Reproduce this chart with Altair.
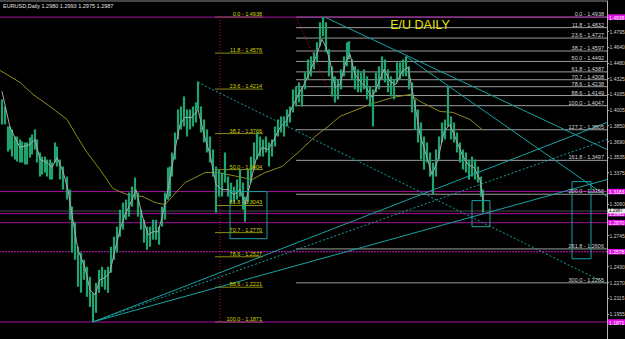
import altair as alt
import pandas as pd

# ---------------- data (bar index, price) ----------------
bar_x = [2, 5, 8, 10, 12, 15, 17, 20, 22, 25,
         27, 30, 32, 35, 37, 40, 42, 45, 47, 50,
         52, 55, 57, 60, 63, 67, 70, 72, 75, 78,
         81, 84, 87, 90, 93, 96, 99, 102, 105, 108,
         111, 114, 117, 120, 123, 126, 129, 132, 135, 138,
         141, 144, 147, 150, 153, 156, 159, 162, 165, 168,
         170, 172, 175, 178, 181, 184, 187, 190, 193, 196,
         198, 201, 204, 207, 210, 213, 216, 219, 222, 225,
         228, 231, 234, 237, 240, 243, 245, 248, 251, 254,
         257, 260, 263, 266, 269, 272, 275, 278, 281, 284,
         287, 290, 293, 296, 299, 302, 305, 308, 311, 314,
         317, 320, 323, 326, 329, 332, 335, 338, 341, 344,
         347, 349, 352, 355, 358, 361, 364, 367, 370, 373,
         376, 379, 382, 385, 388, 391, 394, 397, 400, 403,
         406, 409, 412, 415, 418, 421, 424, 427, 430, 433,
         436, 439, 442, 445, 448, 451, 454, 457, 460, 463,
         466, 469, 472, 475, 478, 481, 483]
bar_high = [1.4110, 1.4039, 1.3838, 1.3838, 1.3808, 1.3737, 1.3737, 1.3707, 1.3687, 1.3677,
            1.3677, 1.3727, 1.3757, 1.3808, 1.3707, 1.3576, 1.3535, 1.3535, 1.3505, 1.3505,
            1.3475, 1.3677, 1.3636, 1.3505, 1.3435, 1.3334, 1.3203, 1.3031, 1.2870, 1.2628,
            1.2568, 1.2497, 1.2427, 1.2326, 1.2165, 1.2265, 1.2396, 1.2427, 1.2396, 1.2427,
            1.2628, 1.2729, 1.2830, 1.3001, 1.3072, 1.3102, 1.3173, 1.3233, 1.3324, 1.3173,
            1.3001, 1.2900, 1.2830, 1.2830, 1.2900, 1.2900, 1.2830, 1.3031, 1.3173, 1.3425,
            1.3435, 1.3576, 1.3777, 1.4009, 1.4039, 1.4140, 1.4009, 1.4009, 1.4039, 1.4080,
            1.4291, 1.4039, 1.3908, 1.3808, 1.3737, 1.3606, 1.3435, 1.3404, 1.3374, 1.3576,
            1.3334, 1.3273, 1.3233, 1.3304, 1.3404, 1.3273, 1.3132, 1.3404, 1.3535, 1.3677,
            1.3777, 1.3737, 1.3707, 1.3737, 1.3677, 1.3707, 1.3838, 1.3908, 1.3939, 1.3939,
            1.4009, 1.4039, 1.4211, 1.4241, 1.4281, 1.4241, 1.4382, 1.4513, 1.4543, 1.4584,
            1.4685, 1.4886, 1.4938, 1.4886, 1.4614, 1.4443, 1.4342, 1.4312, 1.4412, 1.4543,
            1.4685, 1.4695, 1.4513, 1.4443, 1.4412, 1.4382, 1.4412, 1.4342, 1.4241, 1.4211,
            1.4382, 1.4443, 1.4543, 1.4513, 1.4412, 1.4342, 1.4312, 1.4483, 1.4483, 1.4513,
            1.4543, 1.4443, 1.4281, 1.4110, 1.4009, 1.3878, 1.3737, 1.3677, 1.3576, 1.3475,
            1.3606, 1.3737, 1.3878, 1.3908, 1.4241, 1.3939, 1.3878, 1.3777, 1.3677, 1.3606,
            1.3576, 1.3505, 1.3535, 1.3505, 1.3435, 1.3334, 1.3203]
bar_low = [1.3858, 1.3858, 1.3586, 1.3606, 1.3535, 1.3505, 1.3485, 1.3475, 1.3475, 1.3455,
           1.3455, 1.3525, 1.3556, 1.3606, 1.3475, 1.3334, 1.3354, 1.3374, 1.3334, 1.3304,
           1.3304, 1.3475, 1.3435, 1.3304, 1.3203, 1.3102, 1.2900, 1.2568, 1.2497, 1.2225,
           1.2165, 1.2296, 1.2124, 1.2023, 1.1872, 1.1963, 1.2165, 1.2225, 1.2195, 1.2165,
           1.2366, 1.2497, 1.2568, 1.2729, 1.2800, 1.2900, 1.2931, 1.3031, 1.3102, 1.2931,
           1.2800, 1.2669, 1.2598, 1.2628, 1.2699, 1.2699, 1.2648, 1.2830, 1.2900, 1.3102,
           1.3132, 1.3334, 1.3505, 1.3707, 1.3808, 1.3838, 1.3737, 1.3808, 1.3838, 1.3878,
           1.4009, 1.3777, 1.3677, 1.3576, 1.3475, 1.3334, 1.2971, 1.3132, 1.3132, 1.3273,
           1.3132, 1.3072, 1.3072, 1.3102, 1.3132, 1.3001, 1.2880, 1.3072, 1.3273, 1.3404,
           1.3505, 1.3535, 1.3535, 1.3576, 1.3435, 1.3535, 1.3636, 1.3737, 1.3777, 1.3737,
           1.3838, 1.3878, 1.3979, 1.4039, 1.4080, 1.4039, 1.4211, 1.4312, 1.4342, 1.4412,
           1.4483, 1.4644, 1.4745, 1.4584, 1.4342, 1.4140, 1.4080, 1.4110, 1.4211, 1.4342,
           1.4443, 1.4513, 1.4312, 1.4211, 1.4181, 1.4181, 1.4211, 1.4110, 1.4039, 1.3838,
           1.4181, 1.4211, 1.4312, 1.4281, 1.4181, 1.4140, 1.4110, 1.4281, 1.4312, 1.4342,
           1.4342, 1.4211, 1.3979, 1.3808, 1.3677, 1.3505, 1.3404, 1.3475, 1.3334, 1.3152,
           1.3334, 1.3505, 1.3677, 1.3707, 1.3838, 1.3707, 1.3677, 1.3576, 1.3475, 1.3404,
           1.3374, 1.3304, 1.3334, 1.3304, 1.3273, 1.3132, 1.2971]

zig_x = [2, 10, 20, 30, 35, 40, 47, 52, 57, 63, 68, 72, 78, 85, 90, 95, 100, 105, 110, 115,
         120, 125, 130, 136, 142, 148, 153, 158, 162, 168, 175, 180, 185, 192, 198, 204, 210,
         216, 222, 228, 234, 240, 245, 250, 256, 262, 268, 274, 280, 286, 292, 298, 304, 310,
         316, 322, 326, 330, 335, 340, 346, 350, 355, 360, 366, 372, 378, 384, 390, 396, 402,
         408, 414, 420, 426, 432, 438, 444, 450, 456, 462, 468, 474, 480, 483]
zig_p = [1.4191, 1.3828, 1.3626, 1.3656, 1.3707, 1.3505, 1.3475, 1.3425, 1.3525, 1.3384,
         1.3203, 1.2951, 1.2598, 1.2417, 1.2195, 1.2144, 1.2296, 1.2316, 1.2376, 1.2598,
         1.2800, 1.2951, 1.3052, 1.3203, 1.2951, 1.2749, 1.2779, 1.2779, 1.2921, 1.3203,
         1.3606, 1.3858, 1.3929, 1.3929, 1.4009, 1.3757, 1.3556, 1.3253, 1.3203, 1.3203,
         1.3152, 1.3203, 1.3052, 1.3253, 1.3505, 1.3626, 1.3606, 1.3707, 1.3828, 1.3888,
         1.4029, 1.4150, 1.4261, 1.4392, 1.4543, 1.4715, 1.4634, 1.4493, 1.4231, 1.4261,
         1.4493, 1.4564, 1.4362, 1.4291, 1.4231, 1.4130, 1.4261, 1.4412, 1.4291, 1.4261,
         1.4392, 1.4433, 1.4110, 1.3757, 1.3556, 1.3354, 1.3505, 1.3787, 1.3858, 1.3707,
         1.3556, 1.3455, 1.3425, 1.3304, 1.3102]

ma_x = [0, 20, 33, 50, 67, 77, 87, 100, 113, 127, 143, 155, 165, 185, 205, 218, 238, 252,
        265, 282, 298, 315, 328, 340, 370, 393, 410, 420, 440, 453, 470, 482]
ma_p = [1.4402, 1.4281, 1.4160, 1.4039, 1.3908, 1.3737, 1.3576, 1.3404, 1.3213, 1.3152,
        1.3132, 1.3072, 1.3052, 1.3273, 1.3374, 1.3374, 1.3334, 1.3304, 1.3374, 1.3435,
        1.3576, 1.3737, 1.3838, 1.3939, 1.4060, 1.4130, 1.4160, 1.4090, 1.3989, 1.3979,
        1.3908, 1.3808]

# tick labels left visible (1.3220, 1.2900 and 1.2590 sit under the price labels)
axis_ticks = [1.4795, 1.4640, 1.4480, 1.4325, 1.4165, 1.4005, 1.3850, 1.3690, 1.3535,
              1.3375, 1.3060, 1.2745, 1.2430, 1.2270, 1.2115, 1.1955]

fibR_level = ["0.0", "11.8", "23.6", "38.2", "50.0", "61.8", "70.7", "78.6", "88.6",
              "100.0", "127.2", "161.8", "200.0", "261.8", "300.0"]
fibR_price = [1.4938, 1.4832, 1.4727, 1.4597, 1.4492, 1.4387, 1.4308, 1.4238, 1.4149,
              1.4047, 1.3805, 1.3497, 1.3156, 1.2606, 1.2265]
fibR_start, fibR_end = 296, 607

fibL_level = ["0.0", "11.8", "23.6", "38.2", "50.0", "61.8", "70.7", "78.6", "88.6", "100.0"]
fibL_price = [1.4938, 1.4576, 1.4214, 1.3766, 1.3404, 1.3043, 1.2770, 1.2527, 1.2221, 1.1871]
fibL_start, fibL_end = 215, 263

magenta_solid = [1.4938, 1.3183, 1.2961, 1.2870, 1.1871]
magenta_dotted = [1.2578]
price_now = 1.2987

trend_solid = pd.DataFrame({"x0": [93, 93, 325, 406], "p0": [1.1872, 1.1872, 1.4937, 1.4543],
                            "x1": [607, 607, 607, 607], "p1": [1.3878, 1.3304, 1.3606, 1.3132]})
trend_dotted = pd.DataFrame({"x0": [93, 198], "p0": [1.1872, 1.4281],
                             "x1": [607, 607], "p1": [1.3707, 1.2255]})
boxes = pd.DataFrame({"x0": [230, 472, 572], "x1": [267, 490, 591],
                      "p0": [1.3183, 1.3092, 1.3283], "p1": [1.2709, 1.2830, 1.2507]})
red_diag = pd.DataFrame({"x0": [296], "p0": [1.4938], "x1": [336], "p1": [1.4047]})
red_vert = pd.DataFrame({"x0": [220], "p0": [1.4938], "p1": [1.1871]})

# ---------------- chart ----------------
assert len(bar_x) == len(bar_high) == len(bar_low)
assert len(zig_x) == len(zig_p) and len(ma_x) == len(ma_p)

FONT = "Liberation Sans"
xs = alt.Scale(domain=[0, 607], nice=False, zero=False)
ys = alt.Scale(domain=[1.1700, 1.5110], nice=False, zero=False)
yaxis = alt.Axis(orient="right", values=axis_ticks, format=".4f", title="", grid=False,
                 labelFont=FONT, labelFontSize=5, labelColor="#d0d0d0",
                 domainColor="#b0b0b0", tickColor="#b0b0b0", tickSize=1.5,
                 labelPadding=0.5, labelOverlap=False, labelFlush=False)


def X(f):
    return alt.X(f, type="quantitative", scale=xs, axis=None)


def Y(f):
    return alt.Y(f, type="quantitative", scale=ys, axis=yaxis)


bars_df = pd.DataFrame({"x": bar_x, "high": bar_high, "low": bar_low})

top_line = alt.Chart(pd.DataFrame({"a": [0]})).mark_rule(color="#8a8a8a", strokeWidth=1).encode(
    y=alt.value(1))

mag_lines = alt.Chart(pd.DataFrame({"p": magenta_solid})).mark_rule(
    color="#a3129f", strokeWidth=1).encode(y=Y("p"))
mag_dot = alt.Chart(pd.DataFrame({"p": magenta_dotted})).mark_rule(
    color="#a3129f", strokeWidth=1.2, strokeDash=[2, 1]).encode(y=Y("p"))
now_line = alt.Chart(pd.DataFrame({"p": [price_now]})).mark_rule(
    color="#4a4a4a", strokeWidth=1).encode(y=Y("p"))

fibR_df = pd.DataFrame({"p": fibR_price,
                        "label": [f"{l} - {p:.4f}" for l, p in zip(fibR_level, fibR_price)],
                        "x0": fibR_start, "x1": fibR_end, "xt": fibR_end - 3})
fibR_lines = alt.Chart(fibR_df).mark_rule(color="#9c9c9c", strokeWidth=1).encode(
    x=X("x0"), x2="x1", y=Y("p"))
fibR_text = alt.Chart(fibR_df).mark_text(align="right", baseline="bottom", dy=0,
                                         font=FONT, fontSize=5.5, color="#d6d6d6").encode(
    x=X("xt"), y=Y("p"), text="label")

fibL_df = pd.DataFrame({"p": fibL_price,
                        "label": [f"{l} - {p:.4f}" for l, p in zip(fibL_level, fibL_price)],
                        "x0": fibL_start, "x1": fibL_end, "xt": fibL_end - 1})
fibL_lines = alt.Chart(fibL_df).mark_rule(color="#8c8c10", strokeWidth=1).encode(
    x=X("x0"), x2="x1", y=Y("p"))
fibL_text = alt.Chart(fibL_df).mark_text(align="right", baseline="bottom", dy=0,
                                         font=FONT, fontSize=5.5, color="#d8d800").encode(
    x=X("xt"), y=Y("p"), text="label")

redv = alt.Chart(red_vert).mark_rule(color="#c0143c", strokeWidth=1, strokeDash=[1, 2]).encode(
    x=X("x0"), y=Y("p0"), y2="p1")
redd = alt.Chart(red_diag).mark_rule(color="#c0143c", strokeWidth=1, strokeDash=[1, 2]).encode(
    x=X("x0"), x2="x1", y=Y("p0"), y2="p1")

bars = alt.Chart(bars_df).mark_rule(color="#1fa36f", strokeWidth=2.2).encode(
    x=X("x"), y=Y("high"), y2="low")
zig = alt.Chart(pd.DataFrame({"x": zig_x, "p": zig_p})).mark_line(
    color="#a8a8a8", strokeWidth=1).encode(x=X("x"), y=Y("p"))
ma = alt.Chart(pd.DataFrame({"x": ma_x, "p": ma_p})).mark_line(
    color="#8f8a1a", strokeWidth=1).encode(x=X("x"), y=Y("p"))

tr_solid = alt.Chart(trend_solid).mark_rule(color="#19a2a2", strokeWidth=1).encode(
    x=X("x0"), x2="x1", y=Y("p0"), y2="p1")
tr_dot = alt.Chart(trend_dotted).mark_rule(color="#19a2a2", strokeWidth=1,
                                           strokeDash=[2, 2]).encode(
    x=X("x0"), x2="x1", y=Y("p0"), y2="p1")
box_m = alt.Chart(boxes).mark_rect(fillOpacity=0, stroke="#19a2a2", strokeWidth=1).encode(
    x=X("x0"), x2="x1", y=Y("p0"), y2="p1")

eu = alt.Chart(pd.DataFrame({"x": [420], "p": [1.4856], "t": ["E/U DAILY"]})).mark_text(
    font=FONT, fontSize=12.5, color="#e6e600", align="center", baseline="middle").encode(
    x=X("x"), y=Y("p"), text="t")

title = alt.Chart(pd.DataFrame({"t": ["EURUSD,Daily  1.2980 1.2993 1.2975 1.2987"]})).mark_text(
    font=FONT, fontSize=5.5, color="#e0e0e0", align="left", baseline="middle").encode(
    x=alt.value(3), y=alt.value(6), text="t")

lab_df = pd.DataFrame({"p": magenta_solid + magenta_dotted,
                       "t": [f"{p:.4f}" for p in magenta_solid + magenta_dotted]})
lab_box = alt.Chart(lab_df).transform_calculate(
    lo="datum.p - 0.0028", hi="datum.p + 0.0028").mark_rect(color="#e010e0").encode(
    x=alt.value(608), x2=alt.value(626), y=Y("lo"), y2="hi")
lab_txt = alt.Chart(lab_df).mark_text(font=FONT, fontSize=5, color="#ffffff", align="left",
                                      baseline="middle", dy=0.5).encode(
    x=alt.value(609), y=Y("p"), text="t")
now_df = pd.DataFrame({"p": [price_now], "t": [f"{price_now:.4f}"]})
now_box = alt.Chart(now_df).transform_calculate(
    lo="datum.p - 0.0024", hi="datum.p + 0.0024").mark_rect(color="#e8e8e8").encode(
    x=alt.value(608), x2=alt.value(626), y=Y("lo"), y2="hi")
now_txt = alt.Chart(now_df).mark_text(font=FONT, fontSize=4.5, color="#000000", align="left",
                                      baseline="middle", dy=-0.5).encode(
    x=alt.value(609), y=Y("p"), text="t")

chart = alt.layer(
    top_line, now_line, fibR_lines, fibL_lines, mag_lines, mag_dot, redv, redd,
    ma, bars, zig, tr_solid, tr_dot, box_m, fibR_text, fibL_text, eu, title,
    lab_box, lab_txt, now_box, now_txt
).properties(
    width=607, height=339,
    autosize=alt.AutoSizeParams(type="none"),
    padding={"left": 0, "top": 0, "right": 18, "bottom": 0},
).configure(background="#000000").configure_view(strokeWidth=0, fill="#000000")

chart.save("out.html", embed_options={"renderer": "svg", "actions": False})
